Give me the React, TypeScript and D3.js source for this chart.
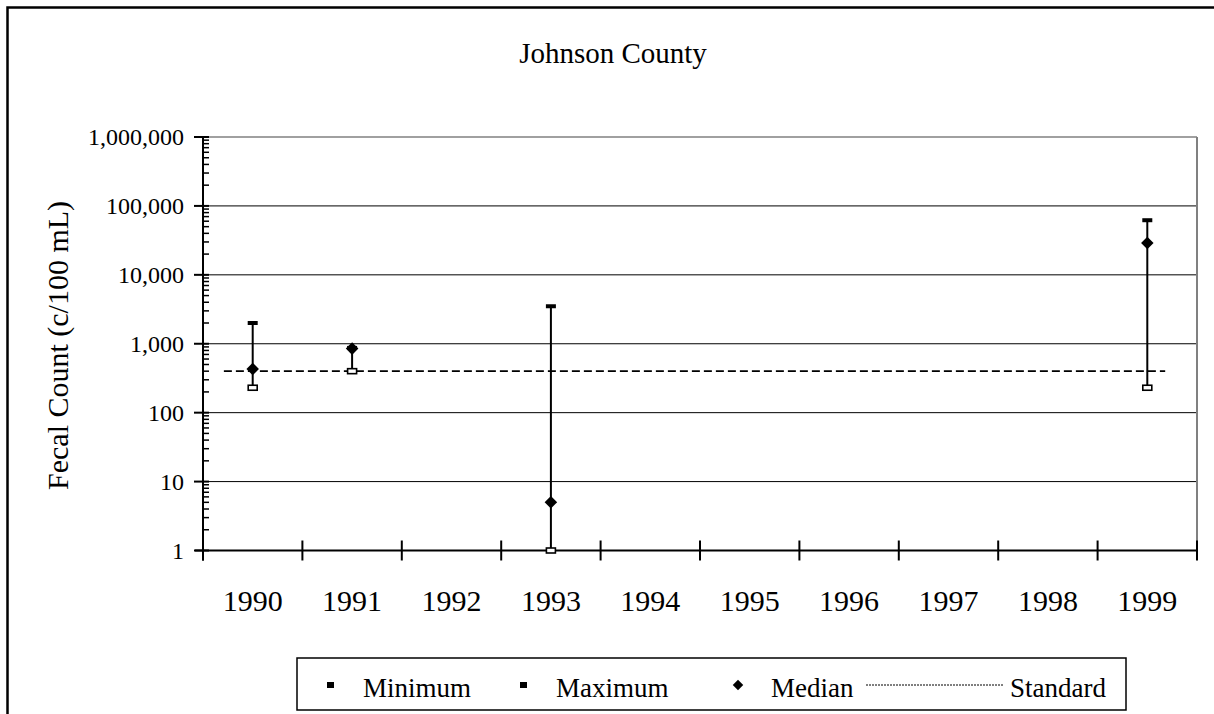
import React, { useEffect, useRef } from 'react';
import * as d3 from 'd3';

const years = ['1990', '1991', '1992', '1993', '1994', '1995', '1996', '1997', '1998', '1999'];
const minimum = [230, 400, null, 1, null, null, null, null, null, 230];
const maximum = [2000, 870, null, 3500, null, null, null, null, null, 62000];
const median = [430, 850, null, 5, null, null, null, null, null, 29000];
const standard = 400;
const yTicks = [1, 10, 100, 1000, 10000, 100000, 1000000];

const App = () => {
  const svgRef = useRef<SVGSVGElement>(null);

  useEffect(() => {
    const svg = d3.select(svgRef.current);
    svg.selectAll('*').remove();
    const font = '"Liberation Serif", "Times New Roman", serif';
    const left = 203;
    const right = 1197;
    const top = 137;
    const bottom = 550.5;

    const x = d3.scaleBand().domain(years).range([left, right]).padding(0);
    const y = d3.scaleLog().domain([1, 1000000]).range([bottom, top]);
    const cx = (d) => x(d) + x.bandwidth() / 2;

    // outer frame (cut off on the right and bottom)
    svg.append('rect').attr('x', 7.5).attr('y', 7.5).attr('width', 1240).attr('height', 740)
      .attr('fill', 'white').attr('stroke', 'black').attr('stroke-width', 2.5);

    svg.append('text').attr('x', 613).attr('y', 63).attr('text-anchor', 'middle')
      .style('font-family', font).style('font-size', '29px').text('Johnson County');

    // gridlines
    svg.append('g').selectAll('line').data(yTicks.slice(1, -1)).enter().append('line')
      .attr('x1', left).attr('x2', right).attr('y1', (d) => y(d)).attr('y2', (d) => y(d))
      .attr('stroke', 'black').attr('stroke-width', 1);
    svg.append('line').attr('x1', left).attr('x2', right).attr('y1', top).attr('y2', top)
      .attr('stroke', '#808080').attr('stroke-width', 1.5);
    svg.append('line').attr('x1', right).attr('x2', right).attr('y1', top).attr('y2', bottom)
      .attr('stroke', '#808080').attr('stroke-width', 2);

    // y axis
    const minor = [];
    for (let e = 0; e < 6; e++) for (let k = 2; k <= 9; k++) minor.push(k * Math.pow(10, e));
    svg.append('g').selectAll('line').data(minor).enter().append('line')
      .attr('x1', left).attr('x2', left + 6).attr('y1', (d) => y(d)).attr('y2', (d) => y(d))
      .attr('stroke', 'black').attr('stroke-width', 1.5);
    svg.append('g').selectAll('line').data(yTicks).enter().append('line')
      .attr('x1', left - 9).attr('x2', left + 6).attr('y1', (d) => y(d)).attr('y2', (d) => y(d))
      .attr('stroke', 'black').attr('stroke-width', 2);
    svg.append('line').attr('x1', left).attr('x2', left).attr('y1', top).attr('y2', bottom + 10)
      .attr('stroke', 'black').attr('stroke-width', 2);
    svg.append('g').selectAll('text').data(yTicks).enter().append('text')
      .attr('x', 184).attr('y', (d) => y(d) + 8).attr('text-anchor', 'end')
      .style('font-family', font).style('font-size', '24px').text((d) => d3.format(',')(d));

    // y title, clipped at the top like the original
    svg.append('clipPath').attr('id', 'ytclip').append('rect')
      .attr('x', 0).attr('y', 201).attr('width', 120).attr('height', 400);
    svg.append('g').attr('clip-path', 'url(#ytclip)')
      .append('text')
      .attr('transform', 'translate(68,490) rotate(-90)')
      .style('font-family', font).style('font-size', '30px').text('Fecal Count (c/100 mL)');

    // x axis
    svg.append('line').attr('x1', left - 8).attr('x2', right).attr('y1', bottom).attr('y2', bottom)
      .attr('stroke', 'black').attr('stroke-width', 2);
    const bounds = years.map((d) => x(d)).concat([right]);
    svg.append('g').selectAll('line').data(bounds).enter().append('line')
      .attr('x1', (d) => d).attr('x2', (d) => d).attr('y1', bottom - 10).attr('y2', bottom + 10)
      .attr('stroke', 'black').attr('stroke-width', 2);
    svg.append('g').selectAll('text').data(years).enter().append('text')
      .attr('x', (d) => cx(d)).attr('y', 611).attr('text-anchor', 'middle')
      .style('font-family', font).style('font-size', '30px').text((d) => d);

    // standard line
    svg.append('line')
      .attr('x1', cx(years[0]) - x.bandwidth() * 0.29).attr('x2', cx(years[9]) + x.bandwidth() * 0.18)
      .attr('y1', y(standard)).attr('y2', y(standard))
      .attr('stroke', 'black').attr('stroke-width', 1.8).attr('stroke-dasharray', '8,4');

    const rows = years.map((d, i) => ({ year: d, min: minimum[i], max: maximum[i], med: median[i] }))
      .filter((d) => d.min != null);

    const g = svg.append('g');
    g.selectAll('line.bar').data(rows).enter().append('line')
      .attr('x1', (d) => cx(d.year)).attr('x2', (d) => cx(d.year))
      .attr('y1', (d) => y(d.min)).attr('y2', (d) => y(d.max))
      .attr('stroke', 'black').attr('stroke-width', 2);
    g.selectAll('rect.max').data(rows).enter().append('rect')
      .attr('x', (d) => cx(d.year) - 5).attr('y', (d) => y(d.max) - 2)
      .attr('width', 10).attr('height', 4).attr('fill', 'black');
    g.selectAll('rect.min').data(rows).enter().append('rect')
      .attr('x', (d) => cx(d.year) - 4.5).attr('y', (d) => y(d.min) - 2.5)
      .attr('width', 9).attr('height', 5).attr('fill', 'white')
      .attr('stroke', 'black').attr('stroke-width', 1.6);
    const diamond = d3.symbol().type(d3.symbolDiamond2).size(100);
    g.selectAll('path').data(rows).enter().append('path')
      .attr('transform', (d) => `translate(${cx(d.year)},${y(d.med)})`)
      .attr('d', diamond).attr('fill', 'black');

    // legend
    const lg = svg.append('g');
    lg.append('rect').attr('x', 297).attr('y', 658).attr('width', 829).attr('height', 52)
      .attr('fill', 'white').attr('stroke', 'black').attr('stroke-width', 1.5);
    const ly = 685;
    lg.append('rect').attr('x', 327).attr('y', ly - 3).attr('width', 7).attr('height', 6).attr('fill', 'black');
    lg.append('rect').attr('x', 520).attr('y', ly - 3).attr('width', 7).attr('height', 6).attr('fill', 'black');
    lg.append('path').attr('transform', `translate(738,${ly})`)
      .attr('d', d3.symbol().type(d3.symbolDiamond2).size(70)).attr('fill', 'black');
    lg.append('line').attr('x1', 866).attr('x2', 1004).attr('y1', ly).attr('y2', ly)
      .attr('stroke', 'black').attr('stroke-width', 1).attr('stroke-dasharray', '2,1');
    const items = [['Minimum', 363], ['Maximum', 556], ['Median', 771], ['Standard', 1010]];
    lg.selectAll('text').data(items).enter().append('text')
      .attr('x', (d) => d[1]).attr('y', 697)
      .style('font-family', font).style('font-size', '27px').text((d) => d[0]);
  }, []);

  return (
    <svg ref={svgRef} width={1214} height={714}
      style={{ position: 'fixed', left: 0, top: 0, background: 'white' }}></svg>
  );
};

export default App;
